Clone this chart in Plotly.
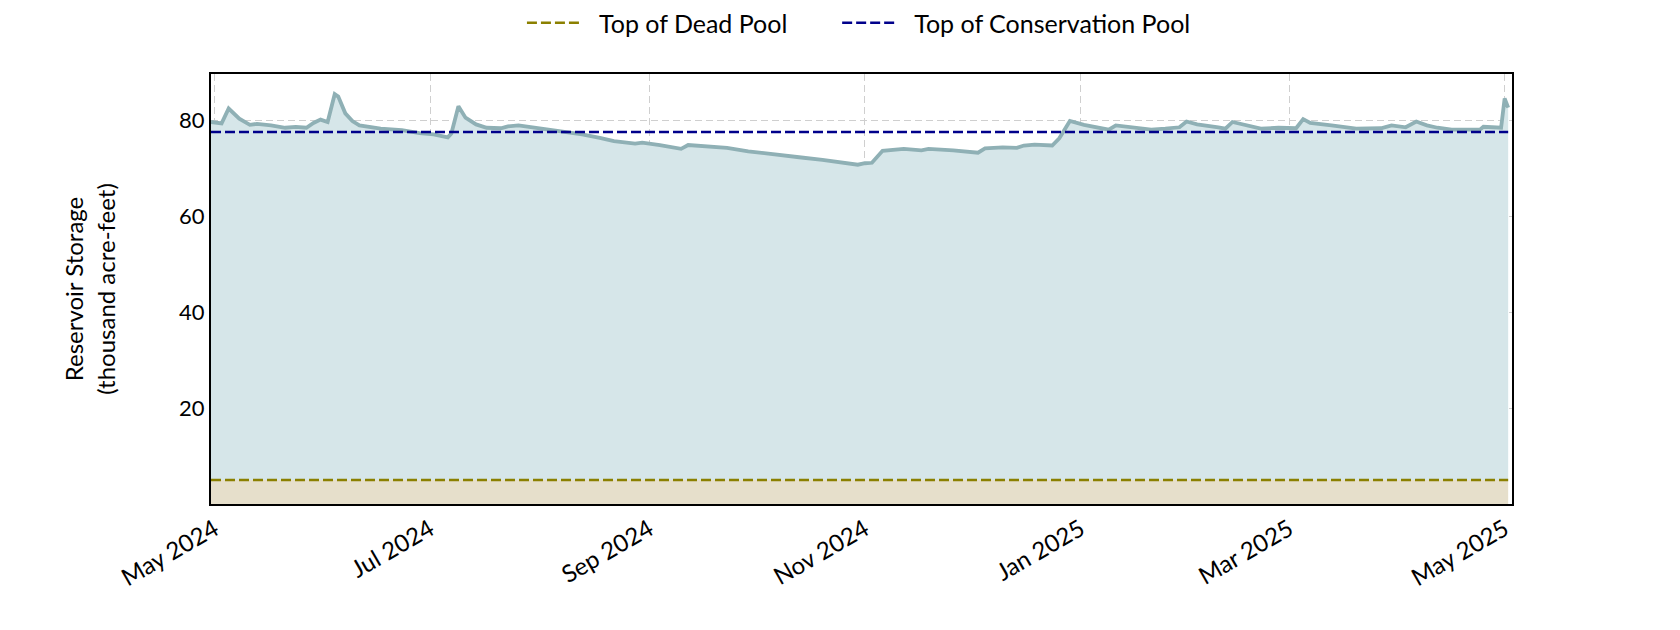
import plotly.graph_objects as go

# reservoir storage, thousand acre-feet
dates = [
    "2024-04-30", "2024-05-03", "2024-05-05", "2024-05-08", "2024-05-11", "2024-05-13",
    "2024-05-17", "2024-05-21", "2024-05-24", "2024-05-27", "2024-05-29", "2024-05-31",
    "2024-06-02", "2024-06-04", "2024-06-05", "2024-06-07", "2024-06-09", "2024-06-11",
    "2024-06-17", "2024-06-23", "2024-06-28", "2024-07-02", "2024-07-06", "2024-07-07",
    "2024-07-09", "2024-07-11", "2024-07-14", "2024-07-17", "2024-07-21", "2024-07-23",
    "2024-07-26", "2024-07-31", "2024-08-07", "2024-08-13", "2024-08-18", "2024-08-22",
    "2024-08-28", "2024-08-30", "2024-09-04", "2024-09-10", "2024-09-12", "2024-09-18",
    "2024-09-23", "2024-09-29", "2024-10-07", "2024-10-14", "2024-10-20", "2024-10-26",
    "2024-10-30", "2024-11-01", "2024-11-03", "2024-11-06", "2024-11-09", "2024-11-12",
    "2024-11-17", "2024-11-19", "2024-11-26", "2024-12-03", "2024-12-05", "2024-12-10",
    "2024-12-14", "2024-12-16", "2024-12-19", "2024-12-24", "2024-12-26", "2024-12-29",
    "2025-01-02", "2025-01-07", "2025-01-09", "2025-01-11", "2025-01-15", "2025-01-21",
    "2025-01-25", "2025-01-29", "2025-01-31", "2025-02-03", "2025-02-09", "2025-02-11",
    "2025-02-13", "2025-02-17", "2025-02-21", "2025-02-26", "2025-03-03", "2025-03-05",
    "2025-03-07", "2025-03-13", "2025-03-20", "2025-03-27", "2025-03-30", "2025-04-03",
    "2025-04-06", "2025-04-09", "2025-04-12", "2025-04-16", "2025-04-24", "2025-04-25",
    "2025-04-30", "2025-05-01", "2025-05-02",
]
storage = [
    79.6, 79.3, 82.4, 80.3, 79.0, 79.2,
    78.9, 78.4, 78.6, 78.4, 79.4, 80.1,
    79.6, 85.4, 84.9, 81.4, 79.8, 78.9,
    78.2, 77.9, 77.3, 77.0, 76.4, 77.2,
    82.9, 80.5, 79.1, 78.4, 78.3, 78.7,
    78.9, 78.4, 77.7, 77.0, 76.3, 75.6,
    75.1, 75.3, 74.8, 74.0, 74.8, 74.5,
    74.2, 73.5, 72.9, 72.2, 71.7, 71.2,
    70.7, 71.0, 71.1, 73.6, 73.8, 74.0,
    73.7, 74.0, 73.7, 73.2, 74.1, 74.3,
    74.2, 74.7, 74.9, 74.7, 76.2, 79.8,
    79.0, 78.2, 78.0, 78.9, 78.6, 78.0,
    78.2, 78.5, 79.7, 79.1, 78.5, 78.2,
    79.6, 78.9, 78.2, 78.4, 78.3, 80.2,
    79.4, 78.9, 78.2, 78.3, 78.9, 78.5,
    79.7, 78.9, 78.4, 78.0, 78.0, 78.6,
    78.4, 84.5, 82.6,
]
dead_pool = 5.0
conservation_pool = 77.5

FONT = "Linux Biolinum O, Linux Biolinum, Lato, sans-serif"
PAD = "\u00a0\u00a0"  # room between legend sample and label
GAP = "\u00a0" * 7    # room between the two legend entries

ends = [dates[0], dates[-1]]

fig = go.Figure()

# tan band under dead pool
fig.add_trace(go.Scatter(
    x=ends, y=[dead_pool, dead_pool], mode="lines", line=dict(width=0),
    fill="tozeroy", fillcolor="#e6dfcb", showlegend=False, hoverinfo="skip",
))
# storage line, filled down to dead pool
fig.add_trace(go.Scatter(
    x=dates, y=storage, mode="lines", line=dict(color="#8fb0b5", width=3.8),
    fill="tonexty", fillcolor="#d6e6e9", showlegend=False,
))
fig.add_trace(go.Scatter(
    x=ends, y=[dead_pool, dead_pool], mode="lines",
    name=PAD + "Top of Dead Pool" + GAP,
    line=dict(color="#8b8000", width=2.5, dash="10px,4px"),
))
fig.add_trace(go.Scatter(
    x=ends, y=[conservation_pool, conservation_pool], mode="lines",
    name=PAD + "Top of Conservation Pool",
    line=dict(color="#00008b", width=2.5, dash="10px,4px"),
))

fig.update_layout(
    width=1680, height=630,
    margin=dict(l=203, r=176, t=66, b=134),
    plot_bgcolor="white", paper_bgcolor="white",
    font=dict(family=FONT, size=22, color="black"),
    legend=dict(
        orientation="h", traceorder="normal",
        x=0.239, xanchor="left", yref="container", y=0.976, yanchor="middle",
        font=dict(size=25), itemwidth=55,
        bgcolor="rgba(0,0,0,0)",
    ),
)
fig.update_xaxes(
    type="date", range=["2024-04-30", "2025-05-03 02:00"],
    tick0="2024-05-01", dtick="M2", tickformat="%b %Y", tickangle=-30,
    tickfont=dict(size=24),
    showline=True, linecolor="black", linewidth=2, mirror=True,
    showgrid=True, gridcolor="#cfcfcf", gridwidth=1.3, griddash="7px,4px",
    ticks="", zeroline=False, ticklabelstandoff=0,
)
fig.update_yaxes(
    range=[0, 89.6], tickvals=[20, 40, 60, 80],
    showline=True, linecolor="black", linewidth=2, mirror=True,
    showgrid=True, gridcolor="#cfcfcf", gridwidth=1.3, griddash="7px,4px",
    ticks="", zeroline=False, ticklabelstandoff=0,
    title=dict(text="Reservoir Storage<br>(thousand acre-feet)",
               font=dict(size=24), standoff=57),
)

fig.write_html("out.html")
